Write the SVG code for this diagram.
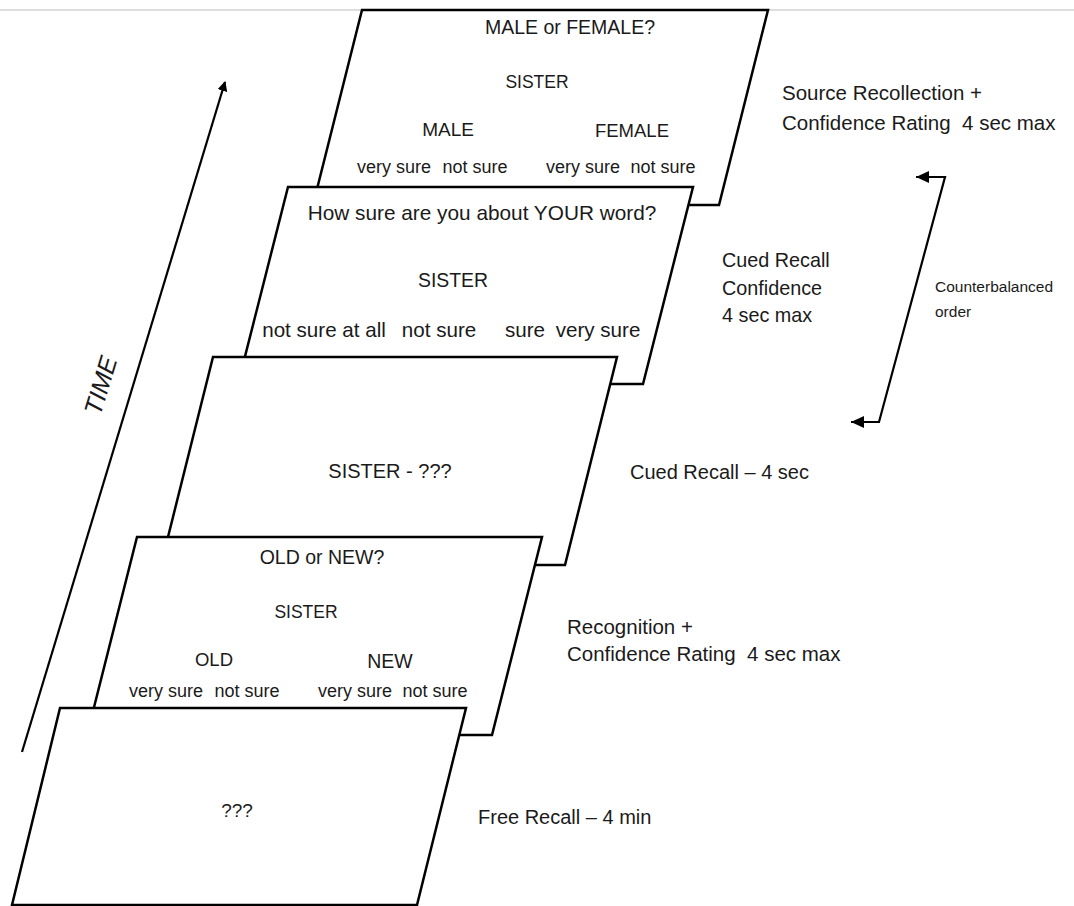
<svg xmlns="http://www.w3.org/2000/svg" width="1074" height="906" viewBox="0 0 1074 906">
<style>
.card{fill:#fff;stroke:#000;stroke-width:2.5;stroke-linejoin:miter}
.t{font-family:"Liberation Sans",Arial,sans-serif;fill:#1a1a1a}
.m{text-anchor:middle}
.lbl{font-size:20.5px}
.sm{font-size:18px}
.conn{fill:none;stroke:#000;stroke-width:2.2}
</style>
<defs>
<marker id="ah" markerWidth="10" markerHeight="10" refX="9" refY="5" orient="auto-start-reverse" markerUnits="userSpaceOnUse">
<path d="M0,0 L10,5 L0,10 z" fill="#000"/>
</marker>
<marker id="ah2" markerWidth="14" markerHeight="14" refX="13" refY="7" orient="auto-start-reverse" markerUnits="userSpaceOnUse">
<path d="M0,1 L13,7 L0,13 z" fill="#000"/>
</marker>
</defs>
<rect width="1074" height="906" fill="#fff"/>
<line x1="0" y1="10" x2="1074" y2="10" stroke="#bdbdbd" stroke-width="1"/>

<g id="card-source">
<polygon class="card" points="362,10 768,10 719,205 313,205"/>
<text class="t m" x="570" y="34" font-size="19.5">MALE or FEMALE?</text>
<text class="t m" x="537" y="88" font-size="17.5">SISTER</text>
<text class="t m" x="448" y="136" font-size="19">MALE</text>
<text class="t m" x="632" y="137" font-size="18.5">FEMALE</text>
<text class="t m sm" x="394" y="173">very sure</text>
<text class="t m sm" x="475" y="173">not sure</text>
<text class="t m sm" x="583" y="173">very sure</text>
<text class="t m sm" x="663" y="173">not sure</text>
</g>

<g id="card-cued-confidence">
<polygon class="card" points="288,187 693,187 643,384 238,384"/>
<text class="t m" x="482" y="220" font-size="20.8">How sure are you about YOUR word?</text>
<text class="t m" x="453" y="287" font-size="19.4">SISTER</text>
<text class="t m" x="324" y="337" font-size="20.6">not sure at all</text>
<text class="t m" x="439" y="337" font-size="20.6">not sure</text>
<text class="t m" x="525" y="337" font-size="20.6">sure</text>
<text class="t m" x="598" y="337" font-size="20.6">very sure</text>
</g>

<g id="card-cued-recall">
<polygon class="card" points="213,357 617,357 565,565 161,565"/>
<text class="t m" x="390" y="478" font-size="20">SISTER - ???</text>
</g>

<g id="card-recognition">
<polygon class="card" points="137,537 542,537 492,735 87,735"/>
<text class="t m" x="322" y="564" font-size="19.5">OLD or NEW?</text>
<text class="t m" x="306" y="618" font-size="17.5">SISTER</text>
<text class="t m" x="214" y="666" font-size="18.5">OLD</text>
<text class="t m" x="390" y="668" font-size="19.5">NEW</text>
<text class="t m sm" x="166" y="697">very sure</text>
<text class="t m sm" x="247" y="697">not sure</text>
<text class="t m sm" x="355" y="697">very sure</text>
<text class="t m sm" x="435" y="697">not sure</text>
</g>

<g id="card-free-recall">
<polygon class="card" points="60,708 466,708 417,905 12,905"/>
<text class="t m" x="237" y="817" font-size="19">???</text>
</g>

<g id="labels">
<text class="t lbl" x="782" y="100">Source Recollection +</text>
<text class="t lbl" x="782" y="130" xml:space="preserve">Confidence Rating  4 sec max</text>
<text class="t" x="722" y="267" font-size="19.8">Cued Recall</text>
<text class="t" x="722" y="295" font-size="19.8">Confidence</text>
<text class="t" x="722" y="322" font-size="19.8">4 sec max</text>
<text class="t" x="935" y="292" font-size="15.5">Counterbalanced</text>
<text class="t" x="935" y="317" font-size="15.5">order</text>
<text class="t" x="630" y="479" font-size="20">Cued Recall – 4 sec</text>
<text class="t lbl" x="567" y="634">Recognition +</text>
<text class="t lbl" x="567" y="661" xml:space="preserve">Confidence Rating  4 sec max</text>
<text class="t" x="478" y="824" font-size="20">Free Recall – 4 min</text>
<text class="t m" x="0" y="0" font-size="25" font-style="italic" transform="translate(109,388) rotate(-73.2)">TIME</text>
</g>

<g id="connectors">
<line class="conn" x1="22" y1="752" x2="225" y2="82" marker-end="url(#ah)"/>
<path class="conn" d="M916,177 L945,177 L879,422 L851,422" marker-start="url(#ah2)" marker-end="url(#ah2)"/>
</g>
</svg>
